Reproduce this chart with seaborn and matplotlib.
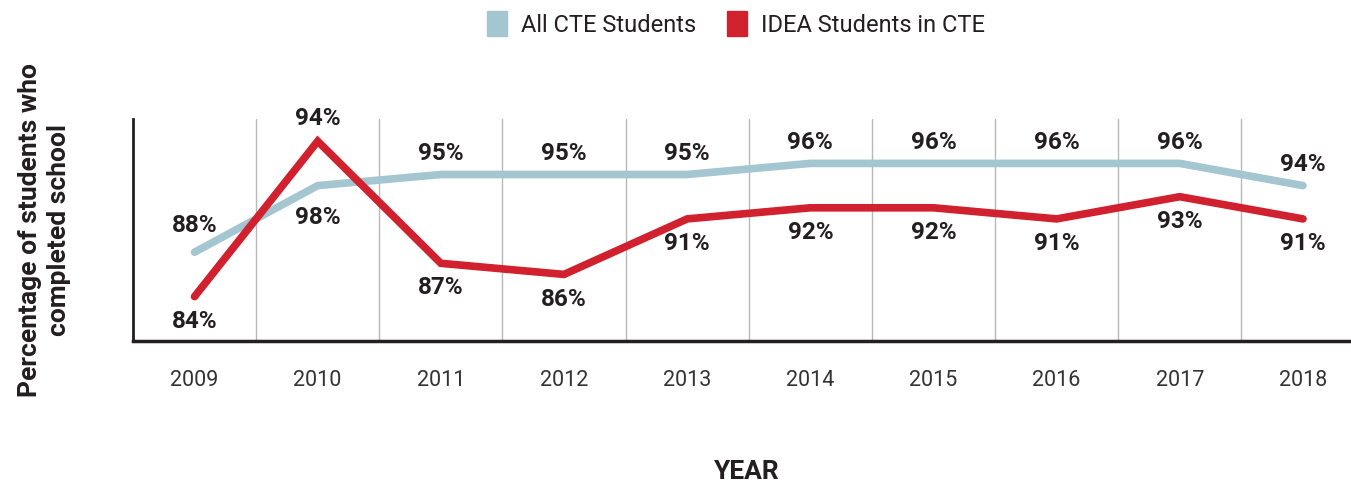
import matplotlib
matplotlib.use('Agg')
import matplotlib.pyplot as plt
import seaborn as sns
import pandas as pd
from matplotlib.patches import Patch

years = ['2009', '2010', '2011', '2012', '2013', '2014', '2015', '2016', '2017', '2018']
all_cte = [88, 94, 95, 95, 95, 96, 96, 96, 96, 94]
idea_cte = [84, 98, 87, 86, 91, 92, 92, 91, 93, 91]
# printed labels as they appear on the original (2010 labels are swapped there)
all_cte_labels = ['88%', '98%', '95%', '95%', '95%', '96%', '96%', '96%', '96%', '94%']
idea_cte_labels = ['84%', '94%', '87%', '86%', '91%', '92%', '92%', '91%', '93%', '91%']
series_names = ['All CTE Students', 'IDEA Students in CTE']

BLUE = '#a4c6d1'
RED = '#d1202e'
TXT = '#231f20'

sns.set_theme(style='white')
plt.rcParams['font.family'] = ['Roboto', 'DejaVu Sans']

df = pd.DataFrame({'year': years * 2,
                   'x': list(range(len(years))) * 2,
                   'pct': all_cte + idea_cte,
                   'series': [series_names[0]] * len(years) + [series_names[1]] * len(years)})

fig = plt.figure(figsize=(13.51, 4.85), dpi=100)
ax = fig.add_axes([0.0984, 0.2948, 0.9016, 0.4578])

sns.lineplot(data=df, x='x', y='pct', hue='series', palette=[BLUE, RED],
             linewidth=5.5, ax=ax, legend=False, solid_capstyle='round', solid_joinstyle='miter')

# label offsets in points: blue above, red below, except 2010
for i, (v, lab) in enumerate(zip(all_cte, all_cte_labels)):
    off = -22 if i == 1 else (20 if i == 0 else 16)
    ax.annotate(lab, (i, v), xytext=(0, off), textcoords='offset points',
                ha='center', va='center', fontsize=17.5, fontweight='semibold', color=TXT)
for i, (v, lab) in enumerate(zip(idea_cte, idea_cte_labels)):
    off = 17 if i == 1 else -17
    ax.annotate(lab, (i, v), xytext=(0, off), textcoords='offset points',
                ha='center', va='center', fontsize=17.5, fontweight='semibold', color=TXT)

for g in range(len(years) - 1):
    ax.axvline(g + 0.5, color='#b8b8b8', linewidth=1, zorder=0)

ax.set_xlim(-0.5, 9.39)
ax.set_ylim(80, 100)
ax.set_xticks(range(len(years)))
ax.set_xticklabels(years, fontsize=15.5, color='#333333')
ax.tick_params(axis='x', length=0, pad=20)
ax.set_yticks([])
ax.set_xlabel('')
ax.set_ylabel('')
for s in ['top', 'right']:
    ax.spines[s].set_visible(False)
ax.spines['left'].set_color(TXT)
ax.spines['bottom'].set_color(TXT)
ax.spines['left'].set_linewidth(2)
ax.spines['bottom'].set_linewidth(2.5)

fig.text(0.033, 0.525, 'Percentage of students who\ncompleted school', rotation=90,
         ha='center', va='center', fontsize=19, fontweight='bold', color=TXT, linespacing=1.25)
fig.text(0.553, 0.027, 'YEAR', ha='center', va='center', fontsize=19, fontweight='bold', color=TXT)

handles = [Patch(color=BLUE), Patch(color=RED)]
fig.legend(handles, series_names, loc='center', bbox_to_anchor=(0.545, 0.95), ncol=2,
           frameon=False, fontsize=17, handlelength=0.85, handleheight=1.25,
           handletextpad=0.6, columnspacing=1.3, labelcolor=TXT)

fig.savefig('out.png', dpi=100)
